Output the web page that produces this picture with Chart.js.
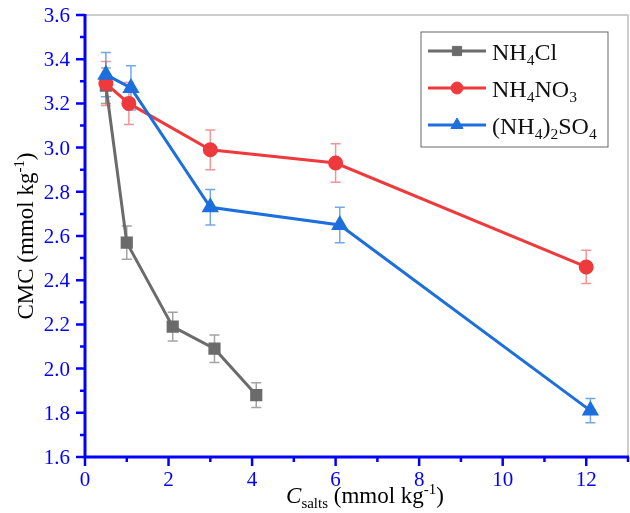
<!DOCTYPE html>
<html lang="en">
<head>
    <meta charset="UTF-8">
    <title>CMC vs salts</title>
    <style>
        body { margin: 0; background: #fff; overflow: hidden; }
        canvas { display: block; }
    </style>
</head>
<body>
    <canvas id="cmcChart" width="630" height="513"></canvas>

    <script src="https://cdn.jsdelivr.net/npm/chart.js@4.4.1/dist/chart.umd.min.js"></script>
    <script>
        // NH4Cl
        const clX = [0.5, 1.0, 2.1, 3.1, 4.1];
        const clY = [3.28, 2.57, 2.19, 2.09, 1.88];
        const clErr = [0.08, 0.075, 0.065, 0.062, 0.056];
        // NH4NO3
        const no3X = [0.5, 1.05, 3.0, 6.0, 12.0];
        const no3Y = [3.29, 3.20, 2.99, 2.93, 2.46];
        const no3Err = [0.1, 0.095, 0.09, 0.087, 0.075];
        // (NH4)2SO4
        const so4X = [0.5, 1.1, 3.0, 6.1, 12.1];
        const so4Y = [3.33, 3.27, 2.73, 2.65, 1.81];
        const so4Err = [0.1, 0.1, 0.08, 0.08, 0.055];

        const xTicks = [0, 2, 4, 6, 8, 10, 12];
        const xMinor = [1, 3, 5, 7, 9, 11, 13];
        const yTicks = [1.6, 1.8, 2.0, 2.2, 2.4, 2.6, 2.8, 3.0, 3.2, 3.4, 3.6];
        const yMinor = [1.7, 1.9, 2.1, 2.3, 2.5, 2.7, 2.9, 3.1, 3.3, 3.5];

        // legend text pieces: [text, is subscript]
        const legendItems = [
            [["NH", false], ["4", true], ["Cl", false]],
            [["NH", false], ["4", true], ["NO", false], ["3", true]],
            [["(NH", false], ["4", true], [")", false], ["2", true], ["SO", false], ["4", true]],
        ];

        const AXIS = "#0000ff";
        const SERIF = "'Liberation Serif', 'Times New Roman', serif";

        function pts(xs, ys) {
            return xs.map((x, i) => ({ x: x, y: ys[i] }));
        }

        const errBars = {
            id: "errBars",
            beforeDatasetsDraw(chart) {
                const ctx = chart.ctx;
                const ys = chart.scales.y;
                ctx.save();
                chart.data.datasets.forEach((ds, di) => {
                    const meta = chart.getDatasetMeta(di);
                    ctx.strokeStyle = ds.errColor;
                    ctx.lineWidth = 1.5;
                    meta.data.forEach((p, i) => {
                        const v = ds.data[i].y;
                        const t = ys.getPixelForValue(v + ds.err[i]);
                        const b = ys.getPixelForValue(v - ds.err[i]);
                        ctx.beginPath();
                        ctx.moveTo(p.x, t); ctx.lineTo(p.x, b);
                        ctx.moveTo(p.x - 5, t); ctx.lineTo(p.x + 5, t);
                        ctx.moveTo(p.x - 5, b); ctx.lineTo(p.x + 5, b);
                        ctx.stroke();
                    });
                });
                ctx.restore();
            }
        };

        // draws a run of text with sub/superscripts
        function richText(ctx, parts, x, y, size) {
            parts.forEach(([txt, mode, italic]) => {
                let s = size, dy = 0;
                if (mode === true || mode === "sub") { s = size * 0.65; dy = size * 0.22; }
                if (mode === "sup") { s = size * 0.65; dy = -size * 0.38; }
                ctx.font = (italic ? "italic " : "") + s + "px " + SERIF;
                ctx.fillText(txt, x, y + dy);
                x += ctx.measureText(txt).width;
            });
            return x;
        }

        function richWidth(ctx, parts, size) {
            let w = 0;
            parts.forEach(([txt, mode, italic]) => {
                const s = mode ? size * 0.65 : size;
                ctx.font = (italic ? "italic " : "") + s + "px " + SERIF;
                w += ctx.measureText(txt).width;
            });
            return w;
        }

        const decor = {
            id: "decor",
            afterDraw(chart) {
                const ctx = chart.ctx;
                const a = chart.chartArea;
                const xs = chart.scales.x, ys = chart.scales.y;
                ctx.save();

                // grey frame top / right
                ctx.strokeStyle = "#bdbdbd";
                ctx.lineWidth = 1.5;
                ctx.beginPath();
                ctx.moveTo(a.left, a.top); ctx.lineTo(a.right, a.top); ctx.lineTo(a.right, a.bottom);
                ctx.stroke();

                // blue axes
                ctx.strokeStyle = AXIS;
                ctx.lineWidth = 3;
                ctx.beginPath();
                ctx.moveTo(a.left, a.top - 1); ctx.lineTo(a.left, a.bottom); ctx.lineTo(a.right + 1, a.bottom);
                ctx.stroke();

                // ticks
                ctx.lineWidth = 2.5;
                ctx.beginPath();
                xTicks.forEach(v => { const p = xs.getPixelForValue(v); ctx.moveTo(p, a.bottom); ctx.lineTo(p, a.bottom + 9); });
                xMinor.forEach(v => { const p = xs.getPixelForValue(v); ctx.moveTo(p, a.bottom); ctx.lineTo(p, a.bottom + 5); });
                yTicks.forEach(v => { const p = ys.getPixelForValue(v); ctx.moveTo(a.left, p); ctx.lineTo(a.left - 9, p); });
                yMinor.forEach(v => { const p = ys.getPixelForValue(v); ctx.moveTo(a.left, p); ctx.lineTo(a.left - 5, p); });
                ctx.stroke();

                // tick labels
                ctx.fillStyle = AXIS;
                ctx.font = "21px 'Liberation Serif', serif";
                ctx.textBaseline = "alphabetic";
                ctx.textAlign = "center";
                xTicks.forEach(v => ctx.fillText(String(v), xs.getPixelForValue(v), a.bottom + 29));
                ctx.textAlign = "right";
                yTicks.forEach(v => ctx.fillText(v.toFixed(1), a.left - 15, ys.getPixelForValue(v) + 7));

                // axis titles
                ctx.fillStyle = "#000";
                ctx.textAlign = "left";
                const xt = [["C", false, true], ["salts", "sub"], [" (mmol kg", false], ["-1", "sup"], [")", false]];
                const xw = richWidth(ctx, xt, 23);
                richText(ctx, xt, 365 - xw / 2, 503, 23);

                const yt = [["CMC (mmol kg", false], ["-1", "sup"], [")", false]];
                const yw = richWidth(ctx, yt, 23);
                ctx.save();
                ctx.translate(33, (a.top + a.bottom) / 2);
                ctx.rotate(-Math.PI / 2);
                richText(ctx, yt, -yw / 2, 0, 23);
                ctx.restore();

                // legend
                ctx.strokeStyle = "#666";
                ctx.lineWidth = 1;
                ctx.strokeRect(421, 32, 187, 115);
                chart.data.datasets.forEach((ds, i) => {
                    const cy = 51 + i * 37;
                    ctx.strokeStyle = ds.borderColor;
                    ctx.lineWidth = 3;
                    ctx.beginPath(); ctx.moveTo(428, cy); ctx.lineTo(486, cy); ctx.stroke();
                    ctx.fillStyle = ds.backgroundColor;
                    ctx.lineWidth = 1;
                    Chart.helpers.drawPoint(ctx, { pointStyle: ds.pointStyle, radius: ds.pointRadius, rotation: 0, borderWidth: 1 }, 457, cy);
                    ctx.fillStyle = "#111";
                    richText(ctx, legendItems[i], 492, cy + 9, 24);
                });

                ctx.restore();
            }
        };

        new Chart(document.getElementById("cmcChart"), {
            type: "line",
            data: {
                datasets: [
                    {
                        label: "NH4Cl",
                        data: pts(clX, clY),
                        err: clErr,
                        errColor: "rgba(140,140,140,0.8)",
                        borderColor: "#6b6b6b",
                        backgroundColor: "#6b6b6b",
                        pointStyle: "rect",
                        pointRadius: 6.5,
                        borderWidth: 3,
                        order: 2,
                    },
                    {
                        label: "NH4NO3",
                        data: pts(no3X, no3Y),
                        err: no3Err,
                        errColor: "rgba(238,90,95,0.65)",
                        borderColor: "#ee3a3d",
                        backgroundColor: "#ee3a3d",
                        pointStyle: "circle",
                        pointRadius: 6,
                        borderWidth: 3,
                        order: 1,
                    },
                    {
                        label: "(NH4)2SO4",
                        data: pts(so4X, so4Y),
                        err: so4Err,
                        errColor: "rgba(40,120,225,0.65)",
                        borderColor: "#1c6fdc",
                        backgroundColor: "#1c6fdc",
                        pointStyle: "triangle",
                        pointRadius: 7,
                        borderWidth: 3,
                        order: 0,
                    },
                ],
            },
            options: {
                responsive: false,
                animation: false,
                layout: { autoPadding: false, padding: { left: 0, top: 15, right: 2, bottom: 0 } },
                plugins: {
                    legend: { display: false },
                    tooltip: { enabled: false },
                },
                elements: {
                    point: { borderWidth: 1 },
                    line: { tension: 0 },
                },
                scales: {
                    x: {
                        type: "linear",
                        min: 0,
                        max: 13,
                        afterBuildTicks: (s) => { s.ticks = xTicks.map(v => ({ value: v })); },
                        afterFit: (s) => { s.height = 56; s.paddingLeft = 0; s.paddingRight = 0; },
                        grid: { display: false, drawTicks: false },
                        border: { display: false },
                        ticks: { display: false },
                    },
                    y: {
                        type: "linear",
                        min: 1.6,
                        max: 3.6,
                        afterBuildTicks: (s) => { s.ticks = yTicks.map(v => ({ value: v })); },
                        afterFit: (s) => { s.width = 85; s.paddingTop = 0; s.paddingBottom = 0; },
                        grid: { display: false, drawTicks: false },
                        border: { display: false },
                        ticks: { display: false },
                    },
                },
            },
            plugins: [errBars, decor],
        });
    </script>
</body>
</html>
